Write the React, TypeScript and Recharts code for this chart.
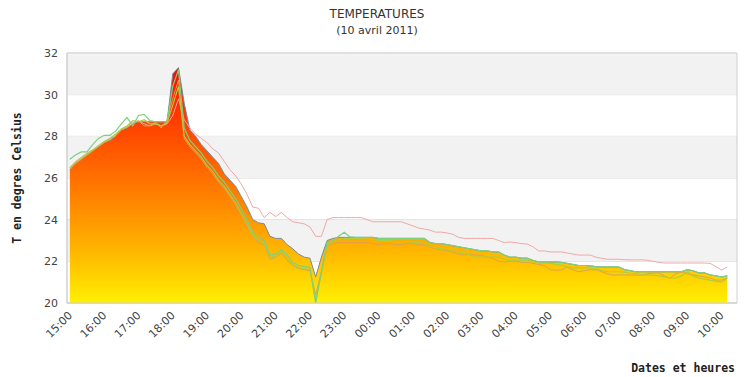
import React from 'react';
import { ComposedChart, Area, Line, XAxis, YAxis, CartesianGrid, ReferenceArea } from 'recharts';

// minutes since 15:00 (10-minute samples)
const minutes: number[] = Array.from({ length: 116 }, (_, i) => i * 10);

const hourTicks = [0, 60, 120, 180, 240, 300, 360, 420, 480, 540, 600, 660, 720, 780, 840, 900, 960, 1020, 1080, 1140];
const hourLabels = ['15:00', '16:00', '17:00', '18:00', '19:00', '20:00', '21:00', '22:00', '23:00', '00:00', '01:00', '02:00', '03:00', '04:00', '05:00', '06:00', '07:00', '08:00', '09:00', '10:00'];
const yTicks = [20, 22, 24, 26, 28, 30, 32];

const mainT = [
  26.4, 26.7, 26.9, 27.1, 27.3, 27.5, 27.7, 27.8, 28.0, 28.3,
  28.4, 28.6, 28.7, 28.7, 28.7, 28.7, 28.7, 28.7, 31.0, 31.3,
  29.6, 28.3, 28.0, 27.6, 27.3, 27.0, 26.7, 26.2, 25.9, 25.6,
  25.1, 24.6, 24.0, 23.85, 23.8, 23.2, 23.1, 23.1, 22.8, 22.6,
  22.35, 22.2, 22.15, 21.25, 22.2, 23.0, 23.1, 23.15, 23.15, 23.15,
  23.15, 23.15, 23.15, 23.15, 23.1, 23.1, 23.1, 23.1, 23.1, 23.1,
  23.1, 23.1, 23.1, 22.9, 22.85, 22.85, 22.8, 22.75, 22.7, 22.65,
  22.6, 22.55, 22.5, 22.5, 22.45, 22.45, 22.3, 22.2, 22.2, 22.15,
  22.15, 22.05, 21.97, 21.97, 21.97, 21.97, 21.95, 21.9, 21.85, 21.8,
  21.8, 21.78, 21.75, 21.73, 21.73, 21.73, 21.73, 21.6, 21.55, 21.5,
  21.5, 21.5, 21.5, 21.5, 21.5, 21.5, 21.5, 21.5, 21.6, 21.55,
  21.45, 21.45, 21.35, 21.3, 21.25, 21.3,
];

const greenT = [
  26.9, 27.1, 27.25, 27.25, 27.6, 27.9, 28.05, 28.05, 28.25, 28.6,
  28.9, 28.5, 29.0, 29.05, 28.75, 28.7, 28.7, 28.7, 30.4, 31.2,
  28.4, 27.8, 27.5, 27.2, 26.8, 26.5, 26.1, 25.8, 25.4, 25.0,
  24.5, 24.0, 23.4, 23.15, 23.0, 22.3, 22.35, 22.55, 22.3, 21.95,
  21.8, 21.75, 21.7, 20.0, 21.5, 22.9, 23.0, 23.2, 23.4, 23.17,
  23.15, 23.15, 23.15, 23.15, 23.1, 23.1, 23.1, 23.1, 23.1, 23.1,
  23.1, 23.1, 23.1, 22.9, 22.85, 22.85, 22.8, 22.75, 22.7, 22.65,
  22.6, 22.55, 22.5, 22.5, 22.45, 22.45, 22.3, 22.2, 22.2, 22.15,
  22.15, 22.05, 21.97, 21.97, 21.97, 21.97, 21.95, 21.9, 21.85, 21.8,
  21.8, 21.78, 21.75, 21.73, 21.73, 21.73, 21.73, 21.6, 21.55, 21.5,
  21.5, 21.5, 21.5, 21.5, 21.5, 21.5, 21.5, 21.5, 21.6, 21.55,
  21.45, 21.45, 21.35, 21.3, 21.25, 21.3,
];

const yellowGreenT = [
  26.5, 26.75, 26.95, 27.15, 27.35, 27.55, 27.75, 27.9, 28.1, 28.35,
  28.5, 28.75, 28.7, 28.8, 28.6, 28.6, 28.5, 28.65, 29.5, 30.4,
  28.0, 27.6, 27.3, 27.0, 26.6, 26.3, 25.9, 25.6, 25.2, 24.8,
  24.3, 23.8, 23.25, 23.0, 22.85, 22.2, 22.25, 22.45, 22.15, 21.85,
  21.7, 21.65, 21.6, 20.2, 21.4, 22.8, 22.95, 23.05, 23.1, 23.1,
  23.1, 23.1, 23.05, 23.05, 23.0, 23.0, 23.0, 22.95, 22.95, 22.95,
  22.9, 22.9, 22.85, 22.7, 22.65, 22.6, 22.55, 22.5, 22.45, 22.4,
  22.3, 22.2, 22.2, 22.2, 22.2, 22.2, 22.1, 22.05, 22.05, 22.05,
  22.05, 21.98, 21.92, 21.92, 21.9, 21.85, 21.82, 21.72, 21.68, 21.7,
  21.68, 21.68, 21.65, 21.55, 21.5, 21.5, 21.5, 21.48, 21.44, 21.42,
  21.35, 21.34, 21.34, 21.3, 21.25, 21.2, 21.2, 21.3, 21.5, 21.3,
  21.2, 21.15, 21.1, 21.05, 21.0, 21.2,
];

const tanT = [
  26.45, 26.7, 26.9, 27.1, 27.3, 27.5, 27.7, 27.85, 28.05, 28.3,
  28.45, 28.6, 28.75, 28.5, 28.5, 28.7, 28.4, 28.8, 29.8, 30.7,
  27.9, 27.5, 27.2, 26.9, 26.5, 26.2, 25.8, 25.5, 25.1, 24.7,
  24.2, 23.7, 23.2, 22.9, 22.8, 22.1, 22.2, 22.4, 22.05, 21.8,
  21.65, 21.6, 21.55, 20.4, 21.5, 22.7, 22.85, 22.9, 22.9, 22.9,
  22.9, 22.9, 22.9, 22.85, 22.8, 22.85, 22.85, 22.8, 22.8, 22.85,
  22.85, 22.8, 22.8, 22.7, 22.6, 22.55, 22.5, 22.45, 22.35, 22.3,
  22.35, 22.3, 22.3, 22.2, 22.15, 22.0, 21.97, 22.0, 22.0, 21.95,
  21.95, 21.9, 21.85, 21.8, 21.6, 21.58, 21.58, 21.73, 21.6, 21.5,
  21.55, 21.6, 21.6, 21.5, 21.4, 21.34, 21.35, 21.35, 21.34, 21.34,
  21.34, 21.4, 21.44, 21.44, 21.3, 21.2, 21.4, 21.5, 21.4, 21.35,
  21.3, 21.25, 21.2, 21.1, 21.1, 21.2,
];

const pinkT = [
  26.5, 26.8, 27.0, 27.2, 27.35, 27.55, 27.75, 27.9, 28.1, 28.35,
  28.5, 28.65, 28.75, 28.6, 28.5, 28.6, 28.5, 28.6, 29.0, 29.8,
  28.8, 28.4, 28.1, 27.9, 27.7, 27.4, 27.2, 26.8, 26.4, 26.1,
  25.7, 25.2, 24.6, 24.55, 24.1, 24.35, 24.15, 24.35, 24.1, 23.9,
  23.85, 23.8, 23.65, 23.2, 23.2, 24.0, 24.1, 24.1, 24.1, 24.1,
  24.1, 24.1, 24.0, 23.9, 23.9, 23.9, 23.9, 23.9, 23.9, 23.8,
  23.7, 23.6, 23.55, 23.5, 23.4, 23.4, 23.36, 23.3, 23.15, 23.1,
  23.1, 23.1, 23.1, 23.1, 23.1, 23.0, 22.9, 22.93, 22.9, 22.85,
  22.83, 22.7, 22.5, 22.5, 22.45, 22.45, 22.45, 22.4, 22.35, 22.3,
  22.3, 22.3, 22.2, 22.15, 22.1, 22.1, 22.1, 22.08, 22.07, 22.07,
  22.07, 22.05, 22.0, 21.95, 21.92, 21.92, 21.92, 21.92, 21.92, 21.92,
  21.92, 21.92, 21.9, 21.75, 21.58, 21.73,
];

const data = minutes.map((t, i) => ({
  t,
  main: mainT[i],
  green: greenT[i],
  yg: yellowGreenT[i],
  tan: tanT[i],
  pink: pinkT[i],
}));

const XTick = (props: any) => {
  const { x, payload } = props;
  const idx = hourTicks.indexOf(payload.value);
  const label = idx >= 0 ? hourLabels[idx] : '';
  const ax = x + 3;
  const ay = 316;
  return (
    <text x={ax} y={ay} transform={`rotate(-45 ${ax} ${ay})`} textAnchor="end" fontSize={11} fill="#444" fontFamily="DejaVu Sans">
      {label}
    </text>
  );
};

export default function App() {
  return (
    <div style={{ position: 'absolute', left: 0, top: 0, width: 754, height: 377, background: '#fff', fontFamily: 'DejaVu Sans' }}>
      <div style={{ position: 'absolute', left: 0, width: 754, top: 7, textAlign: 'center', fontSize: 12, color: '#333', lineHeight: '14px' }}>TEMPERATURES</div>
      <div style={{ position: 'absolute', left: 0, width: 754, top: 24, textAlign: 'center', fontSize: 11, color: '#333', lineHeight: '13px' }}>(10 avril 2011)</div>
      <div style={{ position: 'absolute', left: 17 - 80, top: 178 - 8, width: 160, height: 16, textAlign: 'center', transform: 'rotate(-90deg)', fontFamily: 'DejaVu Sans Mono', fontWeight: 'bold', fontSize: 11.5, color: '#222', lineHeight: '16px' }}>T en degres Celsius</div>
      <div style={{ position: 'absolute', right: 19, top: 360, fontFamily: 'DejaVu Sans Mono', fontWeight: 'bold', fontSize: 11.5, color: '#222', lineHeight: '16px' }}>Dates et heures</div>
      <ComposedChart width={754} height={377} data={data} margin={{ top: 53, right: 17, bottom: 0, left: 0 }} style={{ position: 'absolute', left: 0, top: 0 }}>
        <defs>
          <linearGradient id="heat" gradientUnits="userSpaceOnUse" x1="0" y1="53" x2="0" y2="303">
            <stop offset="0" stopColor="#d4002a" />
            <stop offset="0.1" stopColor="#ff1000" />
            <stop offset="0.25" stopColor="#ff3a00" />
            <stop offset="0.5" stopColor="#ff7000" />
            <stop offset="0.67" stopColor="#ff9800" />
            <stop offset="0.83" stopColor="#ffc000" />
            <stop offset="1" stopColor="#fff000" />
          </linearGradient>
        </defs>
        <ReferenceArea y1={30} y2={32} fill="#f2f2f2" fillOpacity={1} stroke="none" ifOverflow="hidden" />
        <ReferenceArea y1={26} y2={28} fill="#f2f2f2" fillOpacity={1} stroke="none" ifOverflow="hidden" />
        <ReferenceArea y1={22} y2={24} fill="#f2f2f2" fillOpacity={1} stroke="none" ifOverflow="hidden" />
        <CartesianGrid vertical={false} stroke="#dcdcdc" />
        <XAxis dataKey="t" type="number" domain={[-5, 1167]} ticks={hourTicks} interval={0} tick={<XTick />} tickLine={false} axisLine={{ stroke: '#d0d0d0' }} height={74} allowDataOverflow />
        <YAxis type="number" domain={[20, 32]} ticks={yTicks} width={67} tickLine={false} axisLine={{ stroke: '#d0d0d0' }} tick={{ fontSize: 11, fill: '#444', fontFamily: 'DejaVu Sans' }} tickSize={6} tickMargin={3} allowDataOverflow />
        <ReferenceArea x1={-5} x2={1167} y1={20} y2={32} fill="none" stroke="#d0d0d0" />
        <Area type="linear" dataKey="main" stroke="#7a8a9a" strokeWidth={1} fill="url(#heat)" fillOpacity={1} isAnimationActive={false} dot={false} activeDot={false} baseValue={20} />
        <Line type="linear" dataKey="pink" stroke="#f0a8a8" strokeWidth={1} dot={false} activeDot={false} isAnimationActive={false} />
        <Line type="linear" dataKey="tan" stroke="#e0a050" strokeWidth={1} dot={false} activeDot={false} isAnimationActive={false} />
        <Line type="linear" dataKey="yg" stroke="#b2cc3a" strokeWidth={1.2} dot={false} activeDot={false} isAnimationActive={false} />
        <Line type="linear" dataKey="green" stroke="#7fcf80" strokeWidth={1.2} dot={false} activeDot={false} isAnimationActive={false} />
      </ComposedChart>
    </div>
  );
}
